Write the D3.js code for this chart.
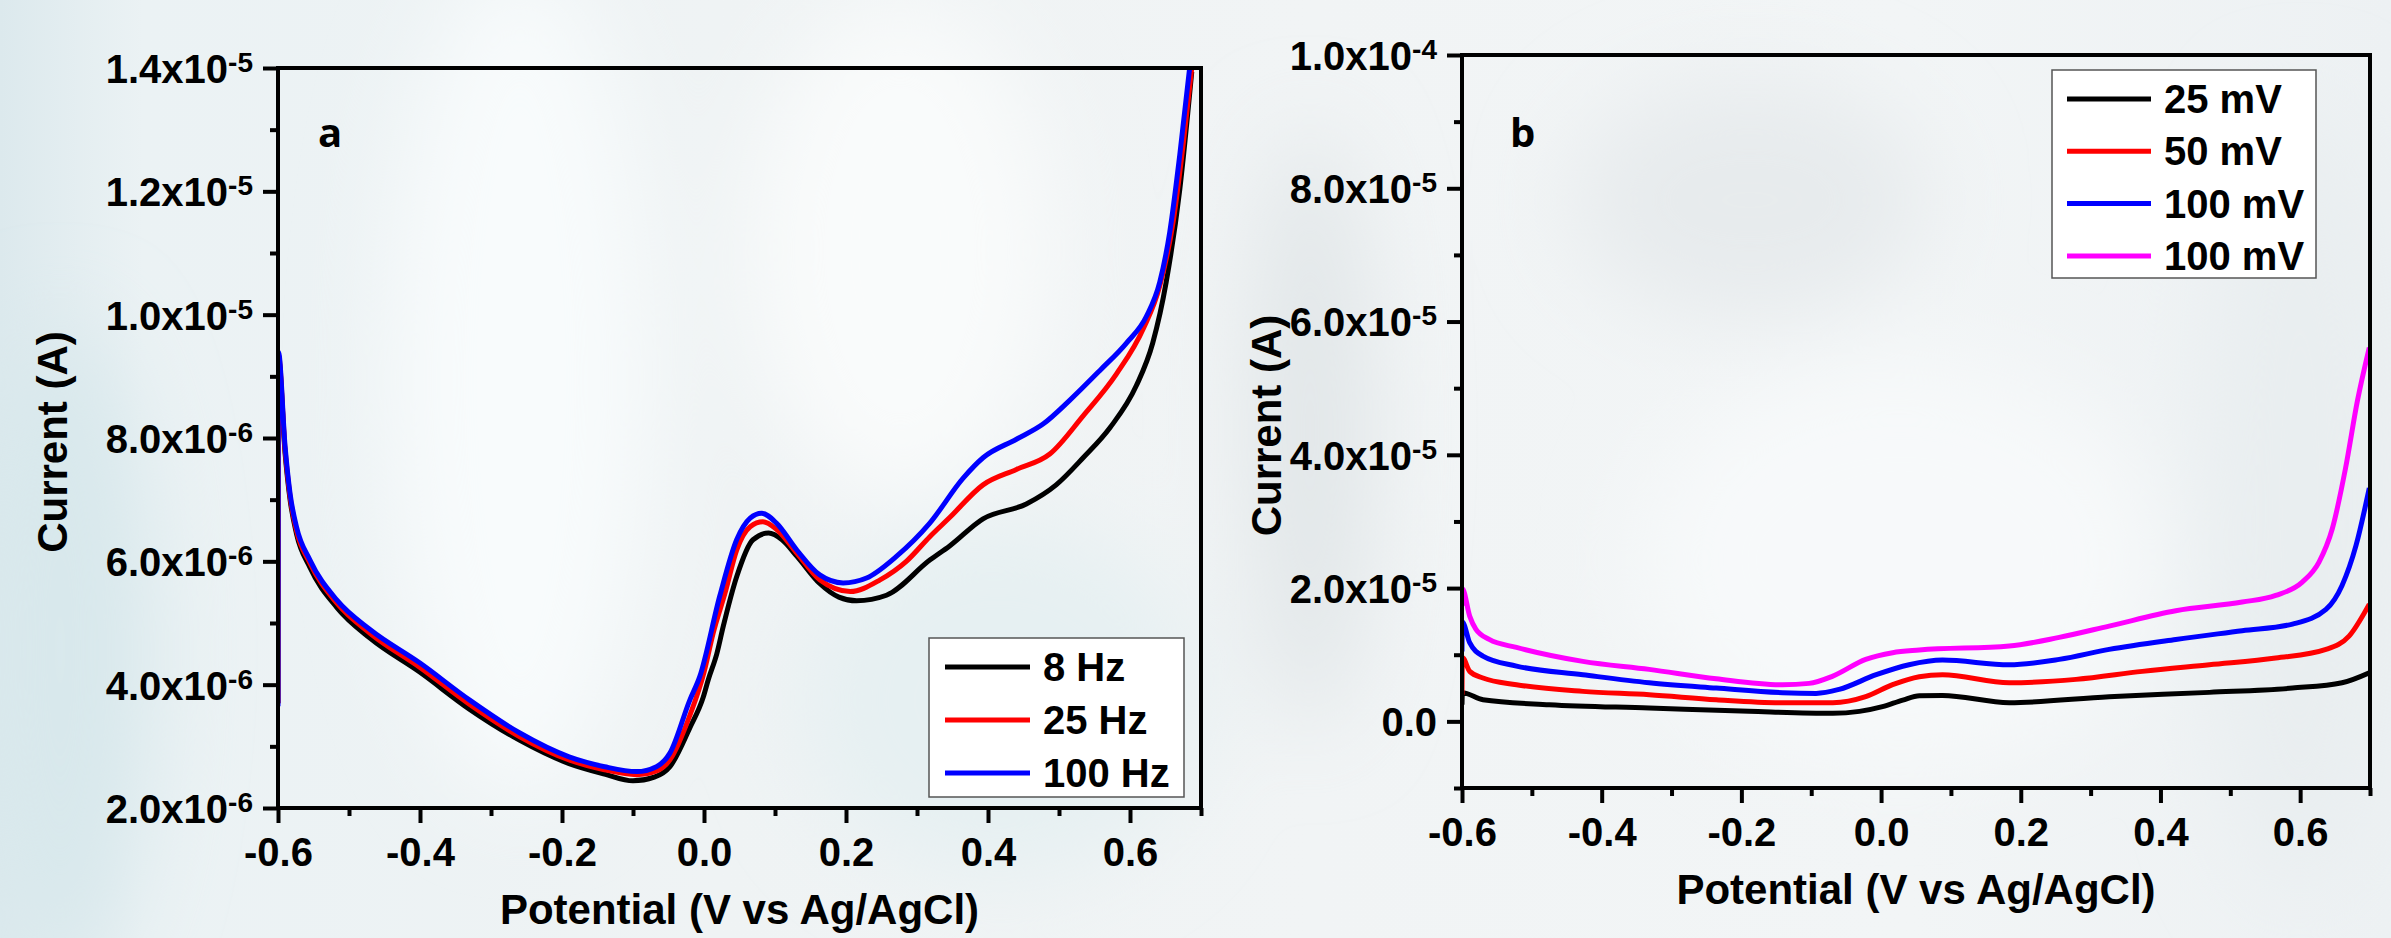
<!DOCTYPE html>
<html>
<head>
<meta charset="utf-8">
<script src="https://cdn.jsdelivr.net/npm/d3@7"></script>
<style>
  html, body { margin: 0; padding: 0; background: #eef2f4; }
  svg text { font-family: "Liberation Sans", Arial, sans-serif; font-weight: bold; fill: #000; }
</style>
</head>
<body>
<svg id="chart" width="2391" height="938"></svg>
<script>
// ---- data: panel a (current in µA, i.e. x10^-6 A) ----
const potA8 = [-0.6, -0.5995, -0.59, -0.583, -0.574, -0.555, -0.517, -0.47, -0.40, -0.33, -0.26, -0.19, -0.14, -0.10, -0.07, -0.048, -0.02, -0.001, 0.006, 0.018, 0.027, 0.046, 0.069, 0.091, 0.11, 0.131, 0.163, 0.19, 0.215, 0.257, 0.318, 0.346, 0.393, 0.454, 0.496, 0.534, 0.572, 0.609, 0.632, 0.651, 0.670, 0.687];
const curA8 = [3.7, 9.3, 7.75, 7.0, 6.45, 5.9, 5.25, 4.75, 4.2, 3.6, 3.1, 2.72, 2.55, 2.44, 2.5, 2.67, 3.3, 3.8, 4.08, 4.5, 4.94, 5.75, 6.35, 6.46, 6.35, 6.08, 5.64, 5.42, 5.36, 5.45, 6.02, 6.25, 6.69, 6.93, 7.24, 7.68, 8.17, 8.85, 9.54, 10.53, 12.02, 13.94];

const potA25 = [-0.6, -0.5995, -0.59, -0.583, -0.574, -0.555, -0.517, -0.47, -0.40, -0.33, -0.26, -0.19, -0.14, -0.095, -0.067, -0.048, -0.02, 0.0, 0.013, 0.03, 0.046, 0.065, 0.083, 0.102, 0.131, 0.163, 0.206, 0.248, 0.285, 0.318, 0.346, 0.393, 0.44, 0.487, 0.534, 0.581, 0.619, 0.642, 0.661, 0.675, 0.687];
const curA25 = [3.7, 9.35, 7.8, 7.05, 6.5, 5.97, 5.32, 4.83, 4.28, 3.68, 3.16, 2.78, 2.62, 2.54, 2.6, 2.78, 3.5, 4.2, 4.84, 5.5, 6.18, 6.56, 6.64, 6.52, 6.13, 5.70, 5.51, 5.70, 6.0, 6.40, 6.71, 7.24, 7.49, 7.74, 8.36, 9.04, 9.78, 10.47, 11.52, 12.77, 14.0];

const potA100 = [-0.6, -0.5995, -0.59, -0.583, -0.574, -0.555, -0.517, -0.47, -0.40, -0.33, -0.26, -0.19, -0.14, -0.095, -0.067, -0.048, -0.02, -0.006, 0.0225, 0.046, 0.065, 0.081, 0.102, 0.131, 0.163, 0.196, 0.229, 0.271, 0.318, 0.365, 0.393, 0.44, 0.478, 0.515, 0.558, 0.595, 0.623, 0.642, 0.656, 0.670, 0.684];
const curA100 = [3.65, 9.4, 7.86, 7.1, 6.56, 6.02, 5.37, 4.89, 4.35, 3.75, 3.22, 2.83, 2.67, 2.59, 2.67, 2.89, 3.75, 4.13, 5.45, 6.35, 6.70, 6.78, 6.62, 6.18, 5.78, 5.65, 5.73, 6.08, 6.62, 7.35, 7.68, 7.98, 8.23, 8.61, 9.10, 9.54, 9.97, 10.53, 11.34, 12.58, 14.0];

// ---- data: panel b (current in units of 10^-5 A) ----
const potB25 = [-0.6, -0.5995, -0.57, -0.475, -0.332, -0.189, -0.069, -0.031, 0.002, 0.031, 0.055, 0.088, 0.1835, 0.3265, 0.470, 0.589, 0.660, 0.699];
const curB25 = [0.25, 0.43, 0.325, 0.25, 0.20, 0.15, 0.12, 0.15, 0.22, 0.32, 0.385, 0.39, 0.28, 0.37, 0.435, 0.50, 0.58, 0.73];

const potB50 = [-0.6, -0.5995, -0.589, -0.570, -0.522, -0.427, -0.332, -0.236, -0.141, -0.069, -0.022, 0.0165, 0.0547, 0.088, 0.1835, 0.279, 0.374, 0.470, 0.565, 0.637, 0.670, 0.699];
const curB50 = [0.40, 0.96, 0.75, 0.65, 0.55, 0.45, 0.40, 0.325, 0.28, 0.28, 0.37, 0.55, 0.67, 0.70, 0.58, 0.63, 0.75, 0.85, 0.95, 1.08, 1.28, 1.76];

const potB100 = [-0.6, -0.5995, -0.589, -0.570, -0.522, -0.427, -0.332, -0.236, -0.141, -0.093, -0.060, -0.007, 0.040, 0.088, 0.1835, 0.255, 0.3265, 0.422, 0.517, 0.589, 0.637, 0.660, 0.680, 0.699];
const curB100 = [1.05, 1.49, 1.18, 0.98, 0.83, 0.70, 0.58, 0.50, 0.43, 0.42, 0.48, 0.70, 0.85, 0.92, 0.85, 0.93, 1.08, 1.23, 1.36, 1.46, 1.68, 2.04, 2.64, 3.50];

const potB100m = [-0.6, -0.5995, -0.589, -0.580, -0.561, -0.522, -0.427, -0.332, -0.236, -0.141, -0.103, -0.069, -0.022, 0.0165, 0.0547, 0.1835, 0.255, 0.3265, 0.422, 0.517, 0.565, 0.603, 0.627, 0.646, 0.665, 0.682, 0.699];
const curB100m = [1.73, 1.99, 1.58, 1.38, 1.23, 1.11, 0.90, 0.78, 0.64, 0.55, 0.57, 0.68, 0.93, 1.03, 1.07, 1.13, 1.26, 1.43, 1.66, 1.79, 1.89, 2.09, 2.39, 2.89, 3.80, 4.81, 5.61];

const legendA = ['8 Hz', '25 Hz', '100 Hz'];
const legendB = ['25 mV', '50 mV', '100 mV', '100 mV'];
const colorsA = ['#000000', '#ff0000', '#0000ff'];
const colorsB = ['#000000', '#ff0000', '#0000ff', '#ff00ff'];

const xTicks = [-0.6, -0.4, -0.2, 0.0, 0.2, 0.4, 0.6];
const xMinor = [-0.5, -0.3, -0.1, 0.1, 0.3, 0.5, 0.7];
const yTicksA = [2, 4, 6, 8, 10, 12, 14];      // x10^-6 A
const yMinorA = [3, 5, 7, 9, 11, 13];
const yTicksB = [0, 2, 4, 6, 8, 10];           // x10^-5 A
const yMinorB = [-1, 1, 3, 5, 7, 9];

const svg = d3.select('#chart');

// ---- soft photographic background ----
const defs = svg.append('defs');
const bg = defs.append('linearGradient').attr('id', 'bgGrad');
[['0%', '#dce9ed'], ['6%', '#ebf2f4'], ['30%', '#eff3f4'], ['55%', '#f1f4f5'], ['80%', '#f2f5f6'], ['100%', '#edf1f3']]
    .forEach(s => bg.append('stop').attr('offset', s[0]).attr('stop-color', s[1]));
defs.append('filter').attr('id', 'blur').attr('x', '-50%').attr('y', '-50%').attr('width', '200%').attr('height', '200%')
    .append('feGaussianBlur').attr('stdDeviation', 45);

svg.append('rect').attr('width', 2391).attr('height', 938).attr('fill', 'url(#bgGrad)');
const blobs = svg.append('g').attr('filter', 'url(#blur)');
[
    [60, 650, 90, 330, '#d8e8ec'],
    [520, 380, 130, 420, '#f8fbfc'],
    [900, 250, 150, 250, '#f9fbfb'],
    [1310, 430, 60, 300, '#e1e6e8'],
    [1750, 200, 180, 120, '#e7ebed'],
    [1900, 560, 260, 200, '#f7f9fa'],
    [1000, 700, 200, 180, '#e6f0f2'],
    [2300, 500, 100, 400, '#e9eef0']
].forEach(b => blobs.append('ellipse')
    .attr('cx', b[0]).attr('cy', b[1]).attr('rx', b[2]).attr('ry', b[3]).attr('fill', b[4]));

function sciParts(v, unitExp) {
    if (v === 0) return ['0.0', null];
    const val = v * Math.pow(10, unitExp);
    const e = Math.floor(Math.log10(Math.abs(val)) + 1e-9);
    const m = val / Math.pow(10, e);
    return [m.toFixed(1) + 'x10', String(e)];
}

function drawPanel(opt) {
    const x = d3.scaleLinear().domain([-0.6, 0.7]).range(opt.xRange);
    const y = d3.scaleLinear().domain(opt.yDomain).range(opt.yRange);
    const [x0, x1] = opt.xRange;
    const [y0, y1] = opt.yRange;
    const g = svg.append('g');

    // clip
    const clipId = 'clip-' + opt.id;
    defs.append('clipPath').attr('id', clipId)
        .append('rect').attr('x', x0).attr('y', y1).attr('width', x1 - x0).attr('height', y0 - y1);

    // curves
    const line = d3.line().x(d => x(d[0])).y(d => y(d[1])).curve(d3.curveMonotoneX);
    const plot = g.append('g').attr('clip-path', `url(#${clipId})`);
    opt.series.forEach((s, i) => {
        plot.append('path')
            .datum(d3.zip(s.pot, s.cur))
            .attr('d', line)
            .attr('fill', 'none')
            .attr('stroke', opt.colors[i])
            .attr('stroke-width', 5)
            .attr('stroke-linejoin', 'round');
    });

    // axes
    const xAxis = g.append('g').attr('transform', `translate(0,${y0})`)
        .call(d3.axisBottom(x).tickValues(xTicks).tickSize(15).tickSizeOuter(0).tickPadding(12)
            .tickFormat(d => d.toFixed(1)));
    g.append('g').attr('transform', `translate(0,${y0})`)
        .call(d3.axisBottom(x).tickValues(xMinor).tickSize(8).tickSizeOuter(0).tickFormat(''));
    const yAxis = g.append('g').attr('transform', `translate(${x0},0)`)
        .call(d3.axisLeft(y).tickValues(opt.yTicks).tickSize(15).tickSizeOuter(0).tickPadding(12));
    g.append('g').attr('transform', `translate(${x0},0)`)
        .call(d3.axisLeft(y).tickValues(opt.yMinor).tickSize(8).tickSizeOuter(0).tickFormat(''));

    g.selectAll('.domain').remove();
    g.selectAll('.tick line').attr('stroke', '#000').attr('stroke-width', 4);
    xAxis.selectAll('text').attr('font-size', 40).attr('dy', '0.78em');

    yAxis.selectAll('text').each(function(d) {
        const t = d3.select(this);
        const parts = sciParts(d, opt.unitExp);
        t.text(null).attr('font-size', 40).attr('dy', '0.36em').attr('x', -25);
        t.append('tspan').text(parts[0]);
        if (parts[1]) {
            t.append('tspan').attr('font-size', 28).attr('dy', -11).text('-' + parts[1].replace('-', ''));
        }
    });

    // frame
    g.append('rect')
        .attr('x', x0).attr('y', y1).attr('width', x1 - x0).attr('height', y0 - y1)
        .attr('fill', 'none').attr('stroke', '#000').attr('stroke-width', 4);

    // axis titles
    g.append('text')
        .attr('x', (x0 + x1) / 2).attr('y', y0 + 116)
        .attr('text-anchor', 'middle').attr('font-size', 42)
        .text('Potential (V vs Ag/AgCl)');
    g.append('text')
        .attr('transform', `translate(${opt.yTitleX},${(y0 + y1) / 2 + 4}) rotate(-90)`)
        .attr('text-anchor', 'middle').attr('font-size', 42)
        .text('Current (A)');

    // panel letter
    g.append('text')
        .attr('x', opt.letterPos[0]).attr('y', opt.letterPos[1])
        .style('font-family', '"Open Sans", sans-serif')
        .attr('font-size', 40)
        .text(opt.letter);

    // legend
    const lg = g.append('g');
    const lb = opt.legendBox;
    lg.append('rect')
        .attr('x', lb[0]).attr('y', lb[1]).attr('width', lb[2]).attr('height', lb[3])
        .attr('fill', '#ffffff').attr('stroke', '#555').attr('stroke-width', 1.5);
    opt.legend.forEach((name, i) => {
        const ry = opt.legendRow0 + i * opt.legendStep;
        lg.append('line')
            .attr('x1', opt.legendLine[0]).attr('x2', opt.legendLine[1])
            .attr('y1', ry).attr('y2', ry)
            .attr('stroke', opt.colors[i]).attr('stroke-width', 5);
        lg.append('text')
            .attr('x', opt.legendLine[1] + 13).attr('y', ry + 14)
            .attr('font-size', 40)
            .text(name);
    });
}

drawPanel({
    id: 'a',
    xRange: [278, 1201],
    yRange: [808, 68],
    yDomain: [2, 14],
    unitExp: -6,
    yTicks: yTicksA,
    yMinor: yMinorA,
    yTitleX: 67,
    letter: 'a',
    letterPos: [318, 147],
    colors: colorsA,
    legend: legendA,
    legendBox: [929, 638, 255, 159],
    legendLine: [945, 1030],
    legendRow0: 667,
    legendStep: 53,
    series: [
        { pot: potA8, cur: curA8 },
        { pot: potA25, cur: curA25 },
        { pot: potA100, cur: curA100 }
    ]
});

drawPanel({
    id: 'b',
    xRange: [1462, 2370],
    yRange: [788, 55],
    yDomain: [-1, 10],
    unitExp: -5,
    yTicks: yTicksB,
    yMinor: yMinorB,
    yTitleX: 1281,
    letter: 'b',
    letterPos: [1510, 147],
    colors: colorsB,
    legend: legendB,
    legendBox: [2052, 70, 264, 208],
    legendLine: [2067, 2151],
    legendRow0: 99,
    legendStep: 52.3,
    series: [
        { pot: potB25, cur: curB25 },
        { pot: potB50, cur: curB50 },
        { pot: potB100, cur: curB100 },
        { pot: potB100m, cur: curB100m }
    ]
});
</script>
</body>
</html>
